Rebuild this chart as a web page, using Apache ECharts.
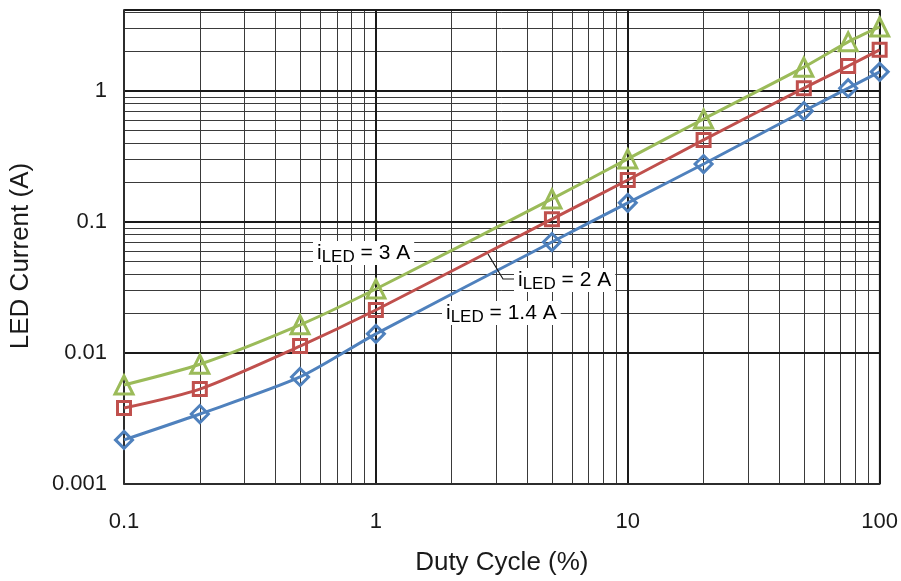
<!DOCTYPE html>
<html><head><meta charset="utf-8">
<script src="https://cdn.jsdelivr.net/npm/echarts@6/dist/echarts.min.js"></script>
<style>html,body{margin:0;padding:0;background:#fff}#c{width:901px;height:581px}</style>
</head><body><div id="c"></div>
<script>
// ---- data ----
const dutyCycle  = [0.1, 0.2, 0.5, 1, 5, 10, 20, 50, 75, 100];
const current3A  = [0.0057, 0.0082, 0.0164, 0.0308, 0.150, 0.303, 0.611, 1.52, 2.37, 3.08];
const current2A  = [0.0038, 0.0053, 0.0113, 0.0213, 0.105, 0.209, 0.423, 1.05, 1.55, 2.06];
const current14A = [0.00217, 0.00342, 0.00656, 0.0140, 0.0703, 0.140, 0.277, 0.703, 1.05, 1.40];
const xDecades = [0.1, 1, 10];
const yDecades = [0.001, 0.01, 0.1, 1];
const xRange = [0.1, 100];
const yRange = [0.001, 4.15];
const xTitle = 'Duty Cycle (%)';
const yTitle = 'LED Current (A)';

const FONT = '"Liberation Sans", Arial, Helvetica, sans-serif';
const C3 = '#9BBB59', C2 = '#C0504D', C14 = '#4F81BD';

function decLabel(v) {
  const l = Math.log10(v), e = Math.round(l);
  if (Math.abs(l - e) > 1e-6) return '';
  return e < 0 ? Math.pow(10, e).toFixed(-e) : String(Math.pow(10, e));
}

const xMinor = [], yMinor = [];
xDecades.forEach(d => { for (let k = 2; k <= 9; k++) xMinor.push(k * d); });
yDecades.forEach(d => { for (let k = 2; k <= 9; k++) if (k * d < yRange[1]) yMinor.push(k * d); });

const pairs = ys => dutyCycle.map((x, i) => [x, ys[i]]);

function lineSeries(name, ys, color, symbol, size) {
  return {
    name, type: 'line', data: pairs(ys), smooth: 0.25, z: 3,
    symbol, symbolSize: size,
    lineStyle: { color, width: 3 },
    itemStyle: { color: 'rgba(0,0,0,0)', borderColor: color, borderWidth: 3 },
    emphasis: { disabled: true }, silent: true
  };
}

const chart = echarts.init(document.getElementById('c'), null, { renderer: 'canvas' });
const axisCommon = {
  type: 'log', logBase: 10, z: 1.5,
  axisLine: { show: true, lineStyle: { color: '#333', width: 1.5 } },
  axisTick: { show: false },
  splitLine: { show: true, lineStyle: { color: '#1a1a1a', width: 2 } },
  nameLocation: 'middle'
};
chart.setOption({
  animation: false,
  backgroundColor: '#fff',
  grid: { left: 124, right: 21, top: 10, bottom: 97, show: true, borderColor: '#333', borderWidth: 1.5, backgroundColor: 'transparent' },
  xAxis: Object.assign({}, axisCommon, {
    min: xRange[0], max: xRange[1], name: xTitle, nameGap: 66,
    nameTextStyle: { fontFamily: FONT, fontSize: 26, color: '#1a1a1a' },
    axisLabel: { formatter: decLabel, fontFamily: FONT, fontSize: 22, color: '#1a1a1a', margin: 27 }
  }),
  yAxis: Object.assign({}, axisCommon, {
    min: yRange[0], max: yRange[1], name: yTitle, nameGap: 90,
    nameTextStyle: { fontFamily: FONT, fontSize: 26, color: '#1a1a1a', padding: [0, 18, 0, 0] },
    axisLabel: { formatter: decLabel, fontFamily: FONT, fontSize: 22, color: '#1a1a1a', margin: 17 }
  }),
  series: [
    {
      type: 'line', data: [], silent: true,
      markLine: {
        z: 1, silent: true, symbol: ['none', 'none'], animation: false,
        label: { show: false },
        lineStyle: { color: '#3a3a3a', width: 1, type: 'solid' },
        emphasis: { disabled: true },
        data: xMinor.map(v => ({ xAxis: v })).concat(yMinor.map(v => ({ yAxis: v })))
      }
    },
    lineSeries('3 A', current3A, C3, 'triangle', 18),
    lineSeries('2 A', current2A, C2, 'rect', 13),
    lineSeries('1.4 A', current14A, C14, 'diamond', 17)
  ]
});

const rich = {
  m: { fontFamily: FONT, fontSize: 21, color: '#1a1a1a', lineHeight: 24, verticalAlign: 'middle' },
  s: { fontFamily: FONT, fontSize: 17, color: '#1a1a1a', lineHeight: 17, padding: [8, 0, 0, 0], verticalAlign: 'middle' }
};
function lbl(x, y, val) {
  return {
    type: 'text', x, y, z: 10, silent: true,
    style: {
      text: '{m|i}{s|LED}{m| = ' + val + '}', rich,
      align: 'left', verticalAlign: 'middle',
      backgroundColor: '#fff', padding: [0, 4, 0, 4]
    }
  };
}
chart.setOption({
  graphic: [
    lbl(313, 253, '3 A'),
    lbl(514, 280, '2 A'),
    lbl(442, 313, '1.4 A'),
    { type: 'polyline', z: 10, silent: true,
      shape: { points: [[488, 254], [503, 279], [514, 279]] },
      style: { stroke: '#1a1a1a', lineWidth: 1.2, fill: null } }
  ]
});
</script></body></html>
